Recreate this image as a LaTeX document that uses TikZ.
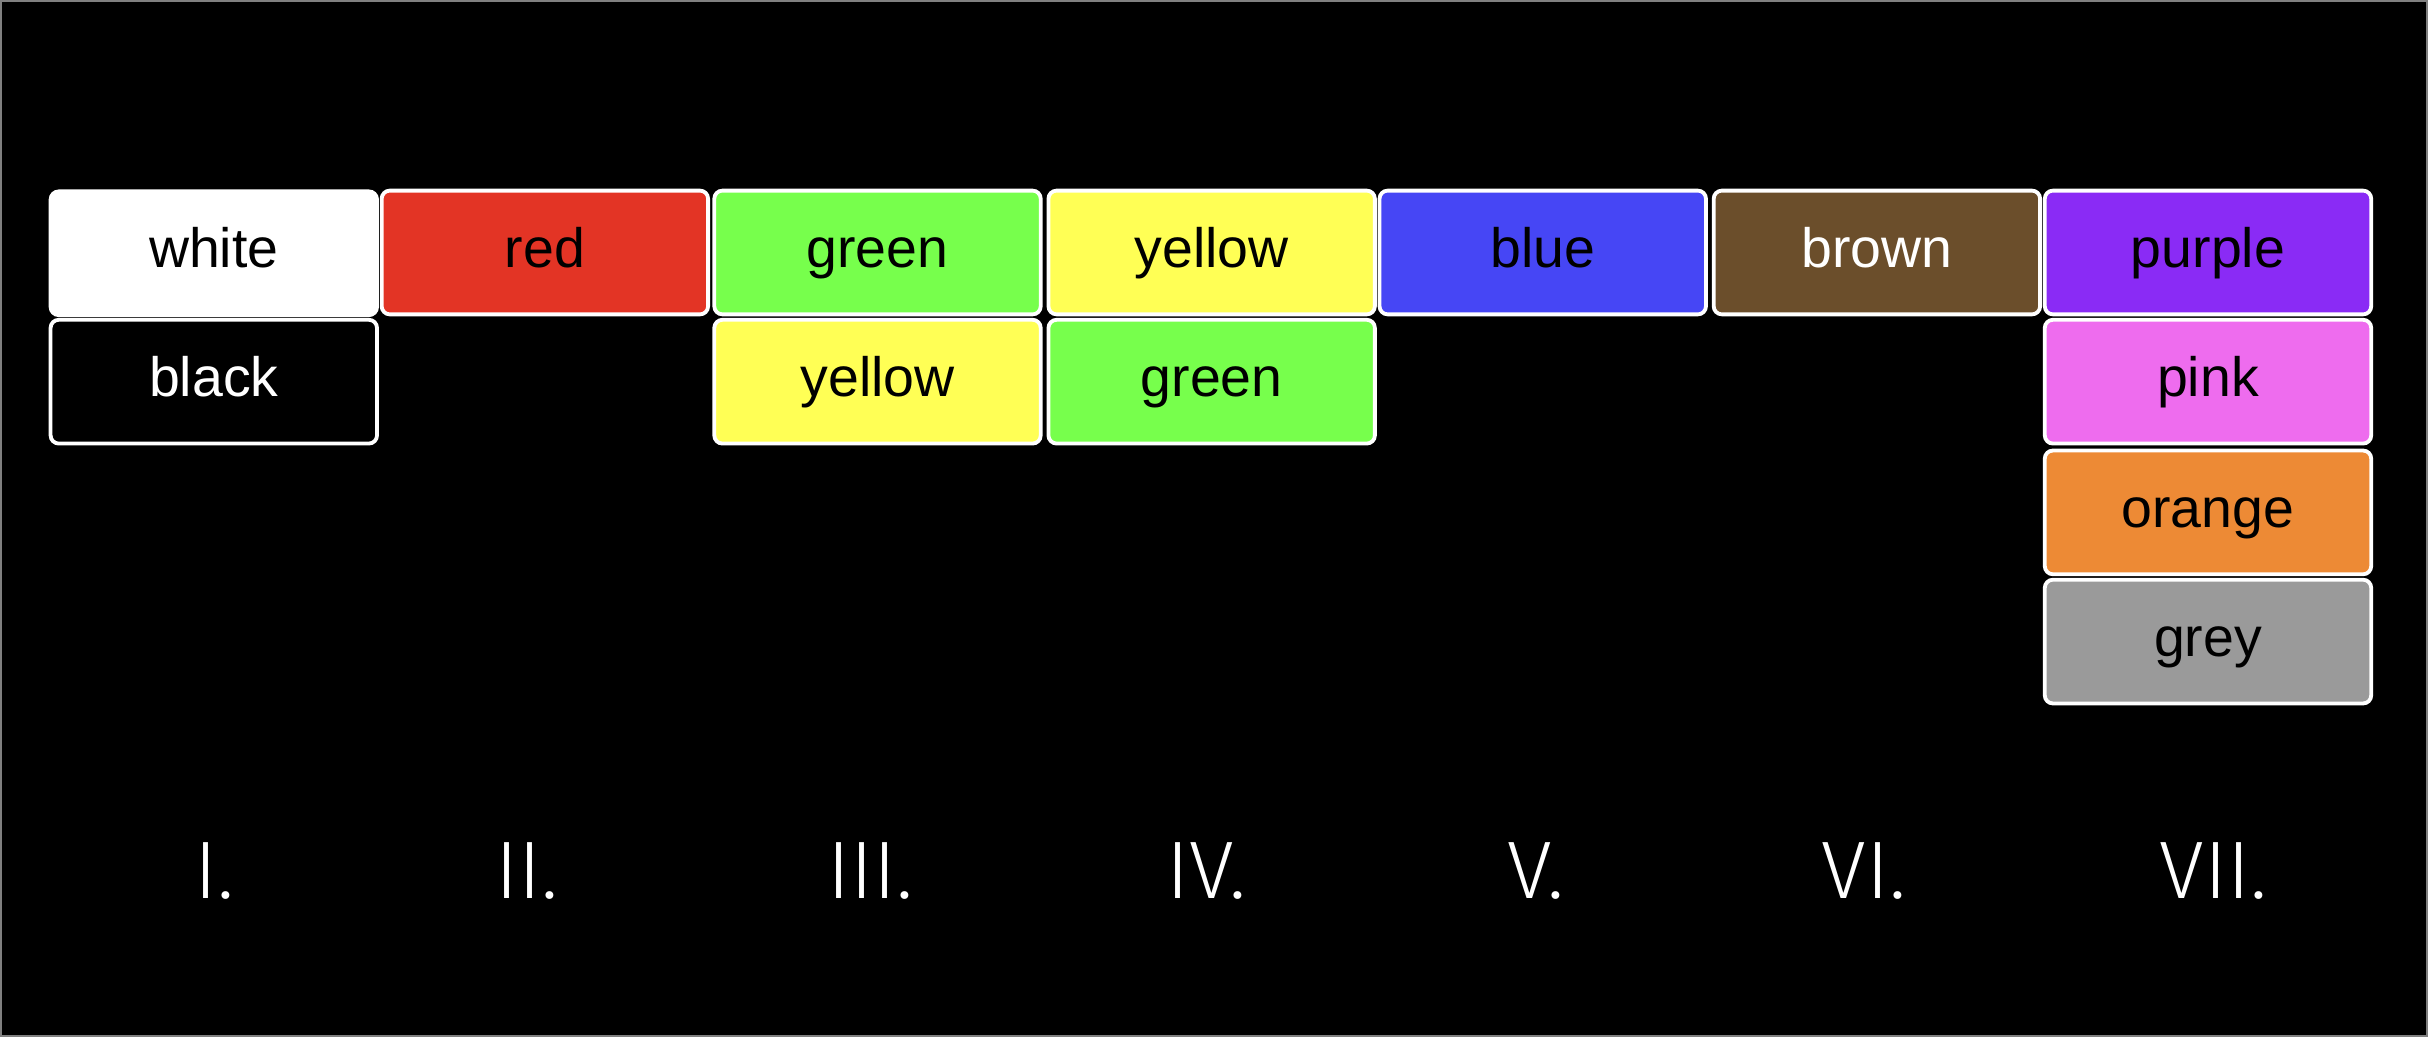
\documentclass[tikz,border=0pt]{standalone}
\usepackage{fontspec}
\setmainfont{Liberation Sans}
\newfontfamily\numfont{Fira Sans Light}
\definecolor{cred}{HTML}{E33425}
\definecolor{cgreen}{HTML}{77FF4C}
\definecolor{cyellow}{HTML}{FFFF55}
\definecolor{cblue}{HTML}{4646F5}
\definecolor{cbrown}{HTML}{6B4E2B}
\definecolor{cpurple}{HTML}{8A2BF5}
\definecolor{cpink}{HTML}{EE6CEE}
\definecolor{corange}{HTML}{ED8A35}
\definecolor{cgrey}{HTML}{9A9A9A}
\tikzset{
  swatch/.style={draw=white, line width=0.7pt, rounded corners=1.5pt,
    minimum width=2.11cm, minimum height=0.8cm, inner sep=0pt,
    text height=7pt, text depth=1.6pt,
    font=\fontsize{10.2}{12}\selectfont, text=black},
  numeral/.style={text=white, font=\numfont\fontsize{15}{18}\selectfont}
}
\begin{document}
\begin{tikzpicture}[x=0.1mm, y=-0.1mm]
				\fill[black, draw=gray, line width=0.4pt] (0,0) rectangle (1568,669);
				\useasboundingbox (0,0) rectangle (1568,669);
				
				% column I
				\node[swatch, fill=white] (white1) at (137.5,163) {white};
				\node[swatch, fill=black, text=white] (black1) at (137.5,246) {black};
				
				% column II
				\node[swatch, fill=cred] (red2) at (351.5,162.5) {red};
				
				% column III
				\node[swatch, fill=cgreen] (green3) at (566.5,162.5) {green};
				\node[swatch, fill=cyellow] (yellow3) at (566.5,246) {yellow};
				
				% column IV
				\node[swatch, fill=cyellow] (yellow4) at (782.5,162.5) {yellow};
				\node[swatch, fill=cgreen] (green4) at (782.5,246) {green};
				
				% column V
				\node[swatch, fill=cblue] (blue5) at (996.5,162.5) {blue};
				
				% column VI
				\node[swatch, fill=cbrown, text=white] (brown6) at (1212.5,162.5) {brown};
				
				% column VII
				\node[swatch, fill=cpurple] (purple7) at (1426.5,162.5) {purple};
				\node[swatch, fill=cpink] (pink7) at (1426.5,246) {pink};
				\node[swatch, fill=corange] (orange7) at (1426.5,330.5) {orange};
				\node[swatch, fill=cgrey] (grey7) at (1426.5,414) {grey};
				
				% numerals
				\node[numeral] (n1) at (138,562) {I.};
				\node[numeral] (n2) at (340,562) {II.};
				\node[numeral] (n3) at (562,562) {III.};
				\node[numeral] (n4) at (779,562) {IV.};
				\node[numeral] (n5) at (992,562) {V.};
				\node[numeral] (n6) at (1204,562) {VI.};
				\node[numeral] (n7) at (1430,562) {VII.};
			\end{tikzpicture}
\end{document}
